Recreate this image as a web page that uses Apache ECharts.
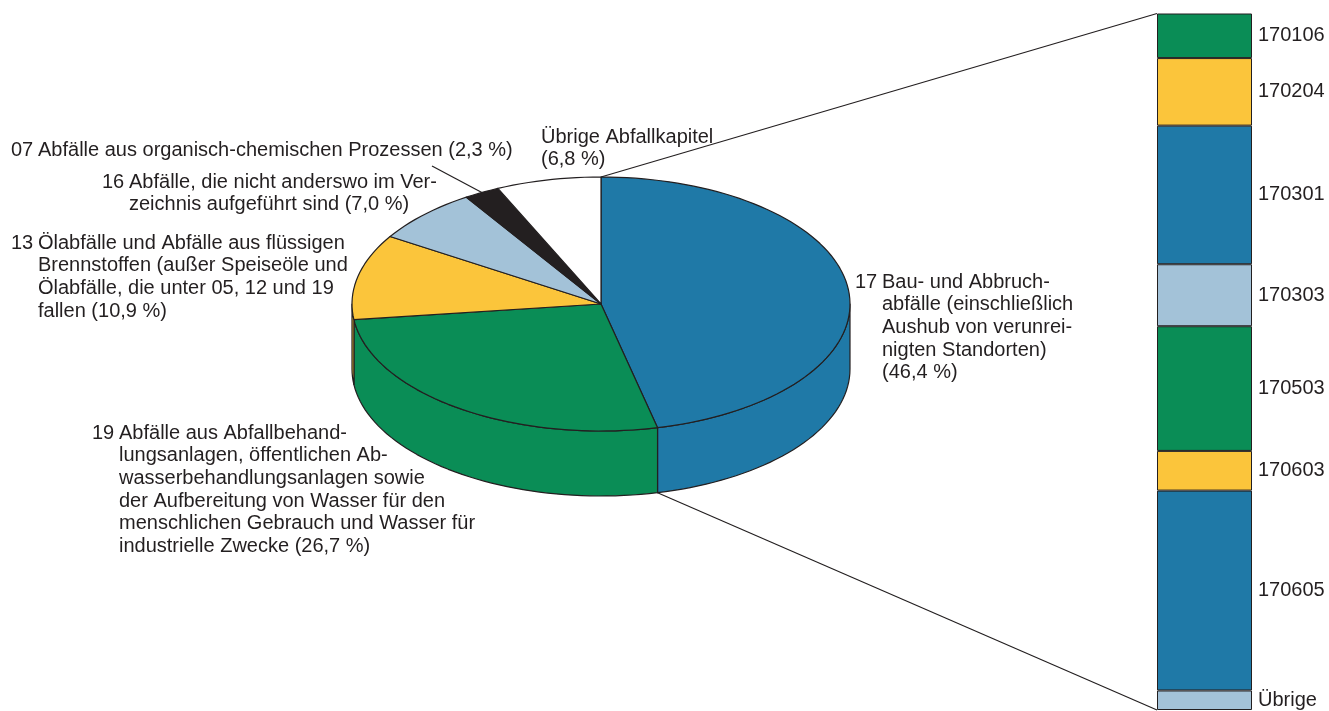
<!DOCTYPE html>
<html>
<head>
<meta charset="utf-8">
<script src="https://cdn.jsdelivr.net/npm/echarts@6/dist/echarts.min.js"></script>
<style>
  html, body { margin: 0; padding: 0; background: #fff; }
  #chart { width: 1329px; height: 711px; }
</style>
</head>
<body>
<div id="chart"></div>
<script>
// Anteile der Abfallkapitel in %
const pieNumbers = ['17', '19', '13', '16', '07', '']
const pieTexts = [
  ['Bau- und Abbruch-', 'abfälle (einschließlich', 'Aushub von verunrei-', 'nigten Standorten)', '(46,4 %)'],
  ['Abfälle aus Abfallbehand-', 'lungsanlagen, öffentlichen Ab-', 'wasserbehandlungsanlagen sowie',
    'der Aufbereitung von Wasser für den', 'menschlichen Gebrauch und Wasser für', 'industrielle Zwecke (26,7 %)'],
  ['Ölabfälle und Abfälle aus flüssigen', 'Brennstoffen (außer Speiseöle und', 'Ölabfälle, die unter 05, 12 und 19', 'fallen (10,9 %)'],
  ['Abfälle, die nicht anderswo im Ver-', 'zeichnis aufgeführt sind (7,0 %)'],
  ['Abfälle aus organisch-chemischen Prozessen (2,3 %)'],
  ['Übrige Abfallkapitel', '(6,8 %)'],
]
const pieValues = [46.4, 26.7, 10.9, 7.0, 2.3, 6.8]
const pieColors = ['#1f79a7', '#0a8d56', '#fbc53b', '#a3c2d8', '#231f20', '#ffffff']

// Kapitel 17 nach Abfallschlüssel, Anteil am Kapitel in %
const barCodes = ['170106', '170204', '170301', '170303', '170503', '170603', '170605', 'Übrige']
const barValues = [6.4, 9.7, 19.9, 8.9, 17.9, 5.7, 28.7, 2.8]
const barColors = ['#0a8d56', '#fbc53b', '#1f79a7', '#a3c2d8', '#0a8d56', '#fbc53b', '#1f79a7', '#a3c2d8']

// layout
const PIE = { cx: 601, cy: 304, rx: 249, ry: 127, depth: 65 }
const BAR = { left: 1157, top: 13.5, width: 95, height: 696.5 }
const labelAnchors = [[855, 282], [92, 433], [11, 243], [102, 182], [11, 150], [541, 137]]
const leaderStart = [432, 166]
const FONT = 'Liberation Sans, Arial, Helvetica, sans-serif'
const FONT_SIZE = 20
const LINE_H = 22.7
const INDENT = 27
const INK = '#231f20'

const total = pieValues.reduce((a, b) => a + b, 0)
const startAngles = []
pieValues.reduce((acc, v, i) => {
  startAngles[i] = acc
  return acc + v / total * 360
}, 0)

function pt(t, dy) {
  const r = t * Math.PI / 180
  return [PIE.cx + PIE.rx * Math.sin(r), PIE.cy - PIE.ry * Math.cos(r) + (dy || 0)]
}

function arc(a0, a1, dy) {
  const n = Math.max(2, Math.ceil((a1 - a0) / 2))
  const out = []
  for (let k = 0; k <= n; k++)
    out.push(pt(a0 + (a1 - a0) * k / n, dy))
  return out
}

function renderSlice(params, api) {
  const i = params.dataIndex
  const a0 = startAngles[i]
  const a1 = a0 + api.value(0) / total * 360
  const style = { fill: api.visual('color'), stroke: INK, lineWidth: 1.2, lineJoin: 'round' }
  const children = []
  // sichtbare Mantelfläche (vordere Hälfte)
  const s0 = Math.max(a0, 90)
  const s1 = Math.min(a1, 270)
  if (s1 > s0) {
    const upper = arc(s0, s1, 0)
    const lower = arc(s0, s1, PIE.depth).reverse()
    children.push({ type: 'polygon', shape: { points: upper.concat(lower) }, style })
  }
  children.push({ type: 'polygon', shape: { points: [[PIE.cx, PIE.cy]].concat(arc(a0, a1, 0)) }, style })
  return { type: 'group', children }
}

const textStyle = { font: FONT_SIZE + 'px ' + FONT, fill: INK }
const graphics = []
pieTexts.forEach((lines, i) => {
  const [x, y] = labelAnchors[i]
  const top = y - LINE_H / 2
  if (pieNumbers[i]) {
    graphics.push({ type: 'text', x, y: top, style: Object.assign({ text: pieNumbers[i], lineHeight: LINE_H, verticalAlign: 'top' }, textStyle) })
  }
  graphics.push({
    type: 'text',
    x: pieNumbers[i] ? x + INDENT : x,
    y: top,
    style: Object.assign({ text: lines.join('\n'), lineHeight: LINE_H, verticalAlign: 'top' }, textStyle),
  })
})

// Hinweislinie zu Kapitel 07
const i07 = pieNumbers.indexOf('07')
const mid07 = startAngles[i07] + pieValues[i07] / total * 180
graphics.push({ type: 'line', shape: { x1: leaderStart[0], y1: leaderStart[1], x2: pt(mid07)[0], y2: pt(mid07)[1] }, style: { stroke: INK, lineWidth: 1.2 } })

// Verbindungslinien Torte -> Säule
const blueEnd = pieValues[0] / total * 360
const topPt = pt(0)
const botPt = pt(blueEnd, PIE.depth)
graphics.push({ type: 'line', shape: { x1: topPt[0], y1: topPt[1], x2: BAR.left, y2: BAR.top }, style: { stroke: INK, lineWidth: 1.2 } })
graphics.push({ type: 'line', shape: { x1: botPt[0], y1: botPt[1], x2: BAR.left, y2: BAR.top + BAR.height }, style: { stroke: INK, lineWidth: 1.2 } })

const chart = echarts.init(document.getElementById('chart'))
chart.setOption({
  animation: false,
  backgroundColor: '#fff',
  grid: { left: BAR.left, top: BAR.top, width: BAR.width, height: BAR.height },
  xAxis: { type: 'category', data: ['17'], show: false },
  yAxis: { type: 'value', min: 0, max: 100, inverse: true, show: false },
  graphic: graphics,
  series: [
    {
      type: 'custom',
      coordinateSystem: 'none',
      silent: true,
      renderItem: renderSlice,
      data: pieValues.map((v, i) => ({ value: [v], itemStyle: { color: pieColors[i] } })),
    },
    ...barCodes.map((code, i) => ({
      type: 'bar',
      name: code,
      stack: 'k17',
      barWidth: '100%',
      silent: true,
      data: [barValues[i]],
      itemStyle: { color: barColors[i], borderColor: INK, borderWidth: 1 },
      label: {
        show: true,
        position: 'right',
        distance: 6,
        formatter: code,
        color: INK,
        fontFamily: FONT,
        fontSize: FONT_SIZE,
      },
    })),
  ],
})
</script>
</body>
</html>
